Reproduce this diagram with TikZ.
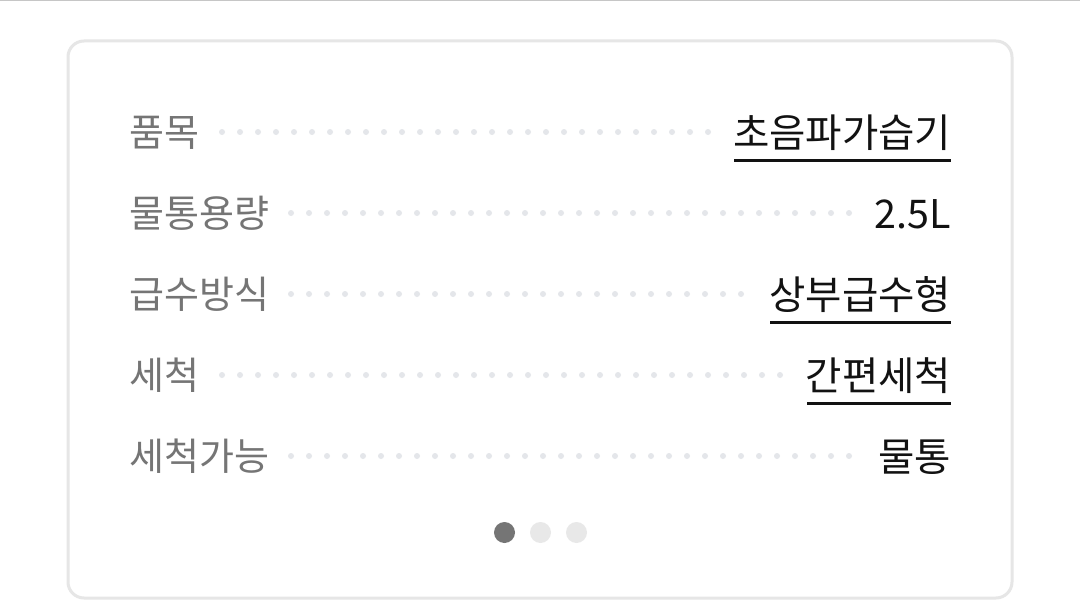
\documentclass[tikz,border=0pt]{standalone}
\usepackage{fontspec}
\setmainfont{Noto Sans CJK KR}
\definecolor{cardline}{HTML}{E6E6E6}
\definecolor{topline}{HTML}{C6C6C6}
\definecolor{leader}{HTML}{E4E6EA}
\definecolor{labelgray}{HTML}{757575}
\definecolor{pageoff}{HTML}{E8E8E8}
\tikzset{
    label text/.style={anchor=base west, inner sep=0pt, text=labelgray, font=\fontsize{38}{44}\selectfont},
    value text/.style={anchor=base east, inner sep=0pt, text=black!93, font=\fontsize{39.5}{46}\selectfont},
    leader dots/.style={line width=6pt, line cap=round, color=leader, dash pattern=on 0pt off 18pt},
    value rule/.style={line width=3pt, color=black!93},
    page dot/.style={circle, minimum size=21pt, inner sep=0pt},
}

\begin{document}
\begin{tikzpicture}[x=1pt, y=-1pt]
\useasboundingbox (0, 0) rectangle (1080, 602);
        \fill[white] (0, 0) rectangle (1080, 602);
        \draw[topline, line width=2pt] (0, 0.5) -- (1080, 0.5);
        \draw[cardline, line width=3pt, rounded corners=16pt] (68, 41) rectangle (1012, 598);

        \node[label text] (itemkey) at (129, 146.5) {품목};
        \node[label text] (tankkey) at (129, 227.5) {물통용량};
        \node[label text] (feedkey) at (129, 308.5) {급수방식};
        \node[label text] (washkey) at (129, 389.5) {세척};
        \node[label text] (partkey) at (129, 470.5) {세척가능};

        \node[value text] (itemval) at (951.5, 147) {초음파가습기};
        \node[value text] (tankval) at (951, 228) {2.5L};
        \node[value text] (feedval) at (951.5, 309) {상부급수형};
        \node[value text] (washval) at (951.5, 390) {간편세척};
        \node[value text] (partval) at (951.5, 471) {물통};

        \coordinate (itemfrom) at (222, 132);
        \coordinate (tankfrom) at (291, 213);
        \coordinate (feedfrom) at (291, 294);
        \coordinate (washfrom) at (222, 375);
        \coordinate (partfrom) at (291, 456);

        \draw[leader dots] (itemfrom) -- (711, 132);
        \draw[leader dots] (tankfrom) -- (852, 213);
        \draw[leader dots] (feedfrom) -- (744, 294);
        \draw[leader dots] (washfrom) -- (783, 375);
        \draw[leader dots] (partfrom) -- (852, 456);

        \draw[value rule] (734, 160) -- (951, 160);
        \draw[value rule] (770, 322) -- (951, 322);
        \draw[value rule] (807, 403) -- (951, 403);

        \node[page dot, fill=labelgray] (pagea) at (504.5, 532.5) {};
        \node[page dot, fill=pageoff] (pageb) at (540.5, 532.5) {};
        \node[page dot, fill=pageoff] (pagec) at (576.5, 532.5) {};
\end{tikzpicture}
\end{document}
